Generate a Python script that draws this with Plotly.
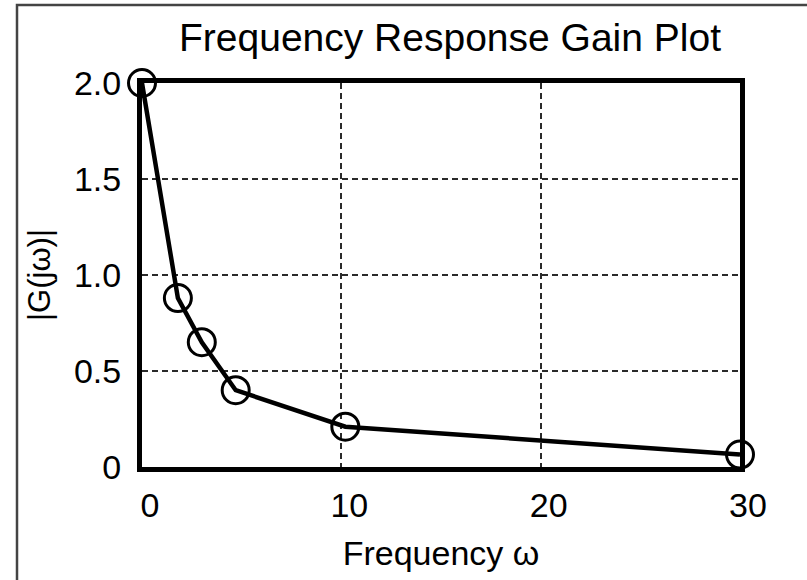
import plotly.graph_objects as go

# Data
freq = [0, 1.8, 3.0, 4.7, 10.2, 30]
gain = [2.0, 0.88, 0.65, 0.40, 0.21, 0.065]

x_tickvals = [0, 10, 20, 30]
x_ticktext = ["0", "10", "20", "30"]
y_tickvals = [0, 0.5, 1.0, 1.5, 2.0]
y_ticktext = ["0", "0.5", "1.0", "1.5", "2.0"]

FONT = "Liberation Sans, Arial, sans-serif"

fig = go.Figure()
fig.add_trace(go.Scatter(
    x=freq, y=gain, mode="lines+markers",
    line=dict(color="black", width=4.5),
    marker=dict(symbol="circle-open", size=27, color="black", line=dict(width=3, color="black")),
    cliponaxis=False, showlegend=False,
))

W, H = 807, 580
L, R, T, B = 142, 67, 83, 113
pw, ph = W - L - R, H - T - B

def px_x(px):
    return (px - L) / pw

def px_y(py):
    return 1 - (py - T) / ph

GRID = dict(showgrid=True, gridcolor="#2a2a2a", griddash="6px,4px", gridwidth=1.5)

fig.update_layout(
    width=W, height=H,
    margin=dict(l=L, r=R, t=T, b=B),
    paper_bgcolor="white", plot_bgcolor="white",
    font=dict(family=FONT, color="black"),
    title=dict(text="Frequency Response Gain Plot", x=450 / W, xanchor="center",
               y=1 - 37 / H, yanchor="middle", font=dict(size=39, family=FONT, color="black")),
    xaxis=dict(
        range=[0, 30], tickvals=x_tickvals, ticktext=x_ticktext,
        showline=True, linecolor="black", linewidth=5, mirror=True,
        ticks="", tickfont=dict(size=34), ticklabelshift=8, ticklabelstandoff=4,
        zeroline=False,
        title=dict(text="Frequency ω", font=dict(size=34), standoff=20),
        **GRID,
    ),
    yaxis=dict(
        range=[0, 2], tickvals=y_tickvals, ticktext=y_ticktext,
        showline=True, linecolor="black", linewidth=5, mirror=True,
        ticks="", tickfont=dict(size=34), ticklabelstandoff=9,
        zeroline=False,
        title=dict(text="|G(jω)|", font=dict(size=31), standoff=16),
        **GRID,
    ),
    shapes=[dict(
        type="path", xref="paper", yref="paper",
        path=f"M {px_x(17)} {px_y(600)} L {px_x(17)} {px_y(5)} L {px_x(820)} {px_y(5)}",
        line=dict(color="#444444", width=2.5),
    )],
)

fig.write_html("out.html")
